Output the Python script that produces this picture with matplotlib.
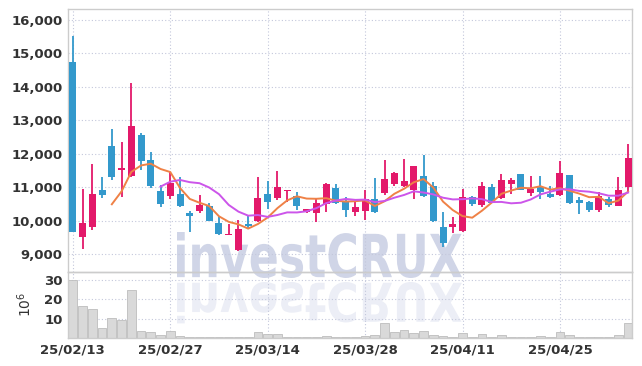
import matplotlib
matplotlib.use("Agg")
import matplotlib.pyplot as plt
import matplotlib.transforms as mtransforms
from matplotlib.textpath import TextPath
from matplotlib.patches import PathPatch
from matplotlib.font_manager import FontProperties
import numpy as np
import pandas as pd

# datos
fechas = ["25/02/13", "25/02/14", "25/02/17", "25/02/18", "25/02/19", "25/02/20", "25/02/21",
          "25/02/24", "25/02/25", "25/02/26", "25/02/27", "25/02/28", "25/03/04", "25/03/05",
          "25/03/06", "25/03/07", "25/03/10", "25/03/11", "25/03/12", "25/03/13", "25/03/14",
          "25/03/17", "25/03/18", "25/03/19", "25/03/20", "25/03/21", "25/03/24", "25/03/25",
          "25/03/26", "25/03/27", "25/03/28", "25/03/31", "25/04/01", "25/04/02", "25/04/03",
          "25/04/04", "25/04/07", "25/04/08", "25/04/09", "25/04/10", "25/04/11", "25/04/14",
          "25/04/15", "25/04/16", "25/04/17", "25/04/18", "25/04/21", "25/04/22", "25/04/23",
          "25/04/24", "25/04/25", "25/04/28", "25/04/29", "25/04/30", "25/05/02", "25/05/07",
          "25/05/08", "25/05/09"]

apertura = [14750, 9500, 9800, 10920, 12230, 11500, 11340, 12560, 11800, 10870,
            10740, 10810, 10240, 10300, 10440, 9940, 9580, 9130, 9900, 9980,
            10810, 10680, 10870, 10750, 10250, 10230, 10500, 10980, 10570, 10260,
            10290, 10650, 10820, 11090, 11040, 10920, 11320, 11020, 9820, 9810,
            9700, 10720, 10470, 10990, 10680, 11090, 11380, 10820, 11000, 10800,
            10770, 11350, 10630, 10550, 10320, 10650, 10450, 11000]
maximo = [15520, 10940, 11690, 11310, 12730, 12360, 14120, 12630, 12040, 11060,
          11460, 11310, 10290, 10770, 10530, 10100, 9910, 10030, 10180, 11300,
          11180, 11480, 10920, 10850, 10350, 10650, 11130, 11100, 10700, 10600,
          10900, 11280, 11820, 11450, 11840, 11620, 11950, 11140, 10270, 10100,
          10950, 10750, 11150, 11080, 11400, 11280, 11400, 11320, 11320, 11040,
          11780, 11370, 10700, 10600, 10850, 10720, 11300, 12300]
minimo = [9650, 9150, 9720, 10680, 11210, 10720, 11310, 11510, 10980, 10400,
          10640, 10410, 9650, 10220, 9990, 9580, 9570, 9080, 9760, 9960,
          10350, 10620, 10570, 10320, 10240, 9950, 10270, 10500, 10120, 10150,
          10030, 10220, 10780, 11030, 11000, 10650, 10720, 9950, 9220, 9620,
          9650, 10450, 10420, 10520, 10650, 10800, 10900, 10730, 10650, 10680,
          10750, 10500, 10200, 10260, 10260, 10400, 10430, 10850]
cierre = [9650, 9920, 10800, 10780, 11290, 11580, 12830, 11770, 11040, 10500,
          11120, 10440, 10140, 10470, 10000, 9590, 9610, 9760, 9840, 10690,
          10560, 11010, 10920, 10450, 10350, 10530, 11100, 10540, 10320, 10410,
          10650, 10260, 11250, 11430, 11170, 11620, 10740, 9980, 9330, 9900,
          10720, 10500, 11030, 10540, 11220, 11200, 10920, 10950, 10850, 10700,
          11430, 10530, 10520, 10320, 10750, 10480, 10920, 11880]
volumen = [30.0, 16.5, 14.8, 5.2, 10.3, 9.4, 25.0, 3.4, 2.9, 1.3,
           3.7, 1.2, 0.7, 0.7, 0.6, 0.6, 0.3, 0.6, 0.6, 3.2,
           2.2, 2.2, 0.6, 0.6, 0.6, 0.6, 1.2, 0.6, 0.6, 0.3,
           1.0, 1.7, 7.8, 3.2, 4.2, 2.7, 3.7, 1.7, 1.2, 0.7,
           2.7, 0.7, 2.2, 0.7, 1.7, 0.7, 0.7, 0.7, 1.2, 0.7,
           3.2, 1.7, 0.7, 0.3, 0.7, 0.3, 1.7, 7.8]

precio_ticks = [9000, 10000, 11000, 12000, 13000, 14000, 15000, 16000]
volumen_ticks = [10, 20, 30]

color_sube = "#e3196a"
color_baja = "#3399cc"
color_ma5 = "#ef8146"
color_ma10 = "#cc55ea"
color_grid = "#c3c7db"
prop_ticks = FontProperties(family="DejaVu Sans", weight="bold", size=9.5)

x = np.arange(len(fechas))
o = np.array(apertura)
h = np.array(maximo)
l = np.array(minimo)
c = np.array(cierre)
ma5 = pd.Series(c).rolling(5).mean()
ma10 = pd.Series(c).rolling(10).mean()
colores = [color_sube if c[i] >= o[i] else color_baja for i in x]

fig = plt.figure(figsize=(6.42, 3.66), dpi=100)
fig.patch.set_facecolor("white")

# marca de agua y su reflejo
tp = TextPath((0, 0), "investCRUX", size=100, prop=FontProperties(family="DejaVu Sans", weight="bold"))
bb = tp.get_extents()
sx = 285 / bb.width
sy = 46 / bb.height
t1 = mtransforms.Affine2D().translate(-bb.x0, -bb.y0).scale(sx, sy).translate(177, 366 - 278)
t2 = mtransforms.Affine2D().translate(-bb.x0, -bb.y0).scale(sx, -sy * 0.9).translate(177, 366 - 282)
fig.add_artist(PathPatch(tp, transform=t1, facecolor="#d0d5e7", edgecolor="none", zorder=0))
fig.add_artist(PathPatch(tp, transform=t2, facecolor="#eceef6", edgecolor="none", zorder=0))

ax1 = fig.add_axes([68 / 642, 1 - 271.7 / 366, 564 / 642, 263 / 366])
ax2 = fig.add_axes([68 / 642, 1 - 338 / 366, 564 / 642, 66.3 / 366], sharex=ax1)

for ax in (ax1, ax2):
    ax.set_facecolor("none")
    ax.set_zorder(1)
    for s in ax.spines.values():
        s.set_color("#cccccc")
        s.set_linewidth(1)
    ax.grid(True, color=color_grid, linestyle=(0, (1, 2)), linewidth=0.8)
    ax.set_axisbelow(True)
    ax.tick_params(length=0, colors="#333333", pad=4)

# velas
ax1.vlines(x, l, h, colors=colores, linewidth=1.3, zorder=2)
ax1.bar(x, np.abs(c - o), bottom=np.minimum(o, c), width=0.72, color=colores, zorder=3)
ax1.plot(x, ma5, color=color_ma5, linewidth=1.4, zorder=4)
ax1.plot(x, ma10, color=color_ma10, linewidth=1.4, zorder=4)
ax1.set_ylim(8470, 16340)
ax1.set_yticks(precio_ticks)
ax1.set_yticklabels([f"{v:,}" for v in precio_ticks])
ax1.tick_params(axis="x", labelbottom=False)

# volumen
ax2.bar(x, volumen, width=0.9, color="#d9d9d9", edgecolor="#bdbdbd", linewidth=0.6, zorder=2)
ax2.set_ylim(0, 34.3)
ax2.set_yticks(volumen_ticks)
ax2.set_yticklabels([str(v) for v in volumen_ticks])
ax2.set_ylabel("$10^6$", fontsize=10, color="#333333")
ax2.yaxis.set_label_coords(-0.06, 0.5)

ax2.set_xlim(-0.5, 57.4)
ax2.set_xticks(x[::10])
ax2.set_xticklabels([fechas[i] for i in x[::10]])

for lab in ax1.get_yticklabels() + ax2.get_yticklabels() + ax2.get_xticklabels():
    lab.set_fontproperties(prop_ticks)
    lab.set_color("#333333")

fig.savefig("out.png", dpi=100)
